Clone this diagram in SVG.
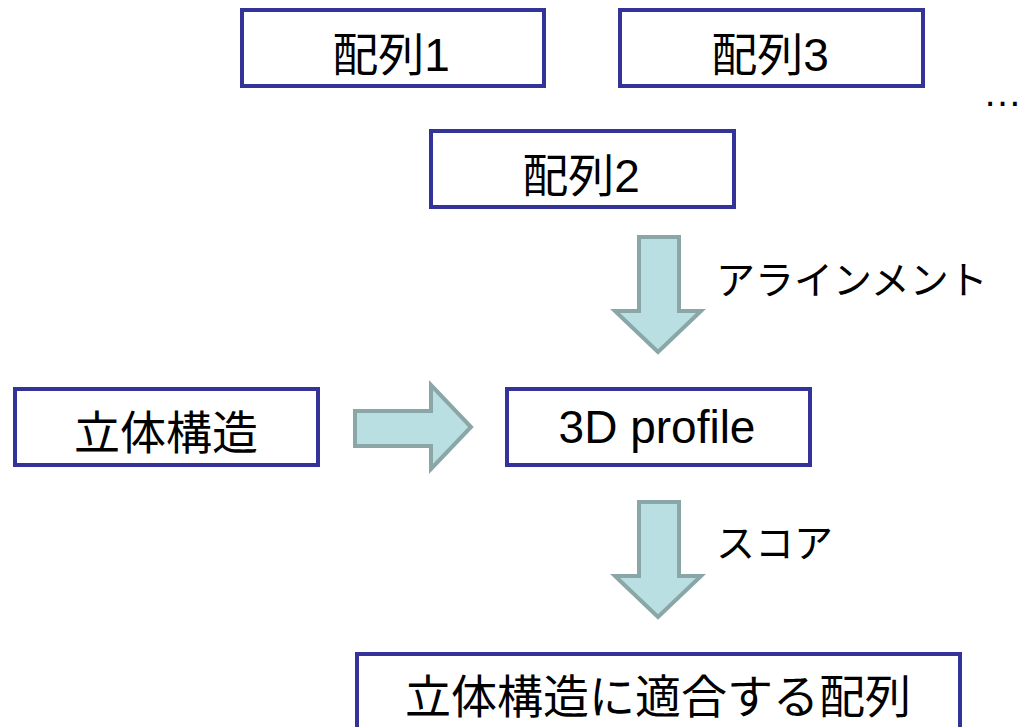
<svg xmlns="http://www.w3.org/2000/svg" width="1023" height="727" viewBox="0 0 1023 727">
<style>
.box{fill:#ffffff;stroke:#333399;stroke-width:4;}
.t{font-family:"Liberation Sans","Noto Sans CJK JP",sans-serif;font-size:46px;fill:#000;text-anchor:middle;}
.l{font-family:"Liberation Sans","Noto Sans CJK JP",sans-serif;font-size:39px;fill:#000;}
.arr{fill:#b9dfe2;stroke:#8ba6a6;stroke-width:4;stroke-linejoin:miter;}
</style>
<rect width="1023" height="727" fill="#ffffff"/>
<g id="seq1"><rect class="box" x="242" y="10" width="302" height="76"/><text class="t" x="391" y="71">配列1</text></g>
<g id="seq3"><rect class="box" x="620" y="10" width="303" height="76"/><text class="t" x="770" y="71">配列3</text></g>
<g id="ellipsis"><text class="l" x="983" y="106" font-size="38">…</text></g>
<g id="seq2"><rect class="box" x="431" y="131" width="303" height="76"/><text class="t" x="581" y="192">配列2</text></g>
<g id="struct"><rect class="box" x="15" y="389" width="303" height="76"/><text class="t" x="166" y="449" font-size="47">立体構造</text></g>
<g id="profile"><rect class="box" x="507" y="389" width="303" height="76"/><text class="t" x="657" y="443" font-size="48">3D profile</text></g>
<g id="result"><rect class="box" x="357" y="654" width="603" height="80"/><text class="t" x="658" y="713" font-size="47">立体構造に適合する配列</text></g>
<g id="connectors">
<polygon class="arr" points="639,237 679,237 679,311 701,311 658,352 615,311 639,311"/>
<polygon class="arr" points="639,502 679,502 679,576 701,576 658,617 615,576 639,576"/>
<polygon class="arr" points="355,411 431,411 431,385 471,427 431,469 431,446 355,446"/>
<text class="l" x="716" y="294">アラインメント</text>
<text class="l" x="716" y="557">スコア</text>
</g>
</svg>
